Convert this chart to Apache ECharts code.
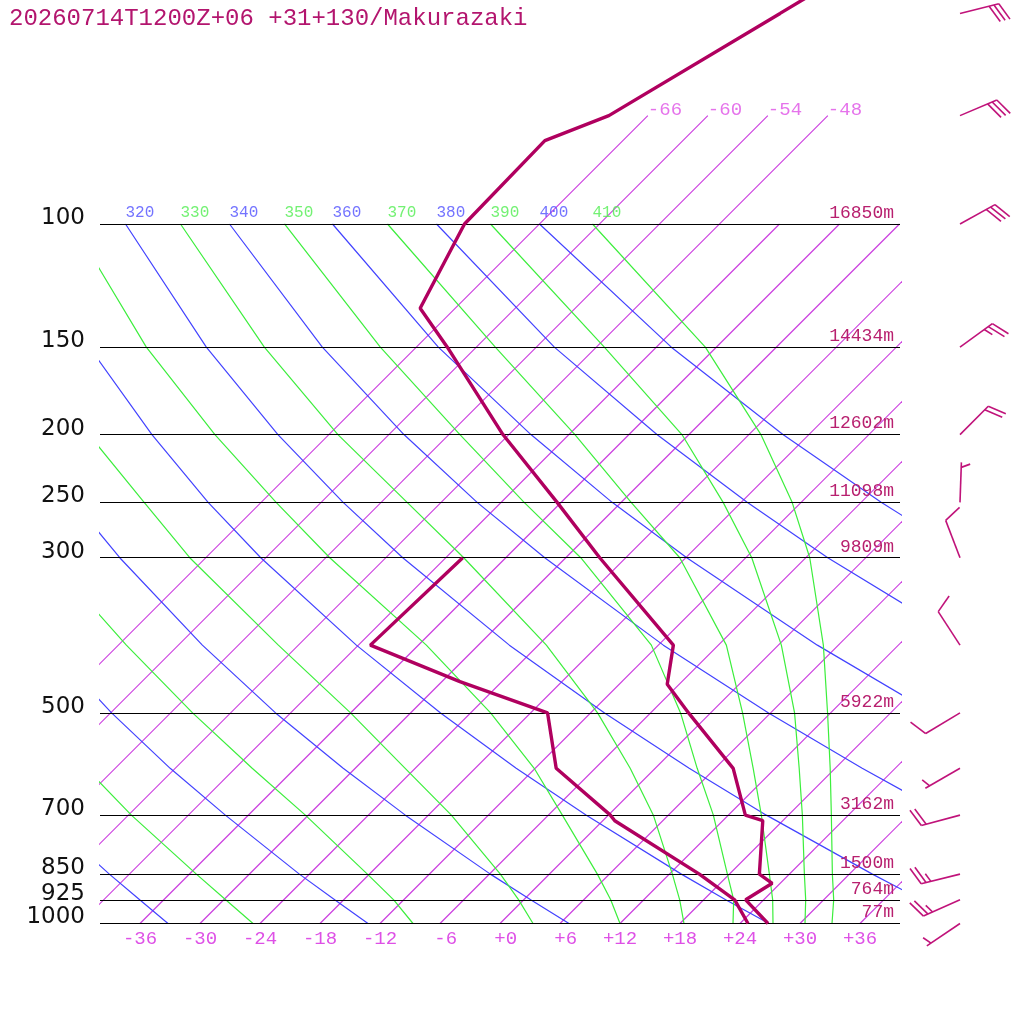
<!DOCTYPE html>
<html>
<head>
<meta charset="utf-8">
<title>Makurazaki sounding</title>
<script src="https://cdn.jsdelivr.net/npm/echarts@6/dist/echarts.min.js"></script>
<style>
html, body { margin: 0; padding: 0; background: #ffffff; }
#myEchart { width: 1024px; height: 1024px; }
</style>
</head>
<body>
<div id="myEchart"></div>
<script>
var title = '20260714T1200Z+06 +31+130/Makurazaki';

// isobars and their heights
var isobarP = [1000, 925, 850, 700, 500, 300, 250, 200, 150, 100];
var isobarH = [77, 764, 1500, 3162, 5922, 9809, 11098, 12602, 14434, 16850];

// bottom temperature ticks
var tempTicks = [-36, -30, -24, -18, -12, -6, 0, 6, 12, 18, 24, 30, 36];

// sounding: temperature
var tempP = [1000, 925, 876, 850, 713, 700, 600, 500, 455, 400, 300, 250, 200, 150, 132, 100, 76, 70, 50, 40];
var tempT = [26.8, 22.2, 23.2, 21.0, 16.0, 13.7, 7.8, -2.2, -7.2, -10.5, -26.6, -36.4, -48.6, -62.9, -69.5, -73.5, -73.8, -69.9, -63.0, -58.5];
// sounding: dew point
var dewP = [1000, 925, 850, 713, 700, 600, 500, 451, 400, 300];
var dewT = [24.8, 21.1, 15.0, 1.2, 0.2, -9.9, -16.3, -28.2, -40.8, -40.3];

// wind barbs (direction in degrees, speed in barb units)
var windP = [50, 70, 100, 150, 200, 250, 300, 400, 500, 600, 700, 850, 925, 1000];
var windDir = [76, 67, 61, 54, 45, 2, 339, 327, 239, 240, 255, 256, 246, 236];
var windSpd = [30, 30, 30, 25, 20, 5, 10, 10, 10, 5, 20, 25, 25, 5];

// isotherms and the pressure where each one stops
var isoT = [-66, -60, -54, -48, -42, -36, -30, -24, -18, -12, -6, 0, 6, 12, 18, 24, 30, 36];
var isoTop = [70, 70, 70, 70, 100, 100, 100, 100, 100, 100, 100, 100, 100, 100, 100, 100, 100, 100];

// levels used by the adiabats
var adiabatP = [1000, 925, 850, 700, 600, 500, 400, 300, 250, 200, 150, 100];

// dry adiabats (blue), temperature at adiabatP
var dryTheta = [240, 260, 280, 300, 320, 340, 360, 380, 400];
var dryT = [
    [-33.2, -38.4, -44.0, -56.4, null, null, null, null, null, null, null, null],
    [-13.2, -18.9, -25.0, -38.3, -48.5, -59.9, -73.0, null, null, null, null, null],
    [6.9, 0.7, -5.9, -20.3, -31.2, -43.5, -57.6, -74.6, -84.7, null, null, null],
    [26.9, 20.2, 13.2, -2.2, -13.9, -27.0, -42.2, -60.5, -71.3, -83.7, -98.7, null],
    [46.9, 39.8, 32.3, 15.8, 3.4, -10.6, -26.9, -46.3, -57.8, -71.1, -87.0, -107.4],
    [null, null, null, 33.9, 20.7, 5.8, -11.5, -32.1, -44.4, -58.5, -75.4, -97.0],
    [null, null, null, null, null, 22.2, 3.9, -17.9, -30.9, -45.8, -63.8, -86.7],
    [null, null, null, null, null, null, 19.3, -3.8, -17.4, -33.2, -52.2, -76.3],
    [null, null, null, null, null, null, null, 10.4, -4.0, -20.6, -40.5, -66.0]
];

// moist adiabats (green), temperature at adiabatP
var moistTheta = [250, 270, 290, 310, 330, 350, 370, 390, 410];
var moistT = [
    [-24.7, -29.8, -35.3, -47.7, -56.9, null, null, null, null, null, null, null],
    [-8.7, -13.0, -18.2, -30.3, -40.3, -51.8, -65.2, -81.7, null, null, null, null],
    [3.3, -0.5, -4.9, -15.7, -25.0, -36.0, -50.0, -67.6, -77.7, -90.0, null, null],
    [12.0, 8.7, 4.8, -4.6, -12.1, -22.0, -35.2, -53.6, -64.5, -77.4, -93.0, -112.7],
    [18.4, 15.6, 12.3, 4.5, -2.5, -11.3, -23.2, -40.2, -51.4, -65.1, -81.2, -101.9],
    [23.3, 21.0, 17.8, 10.5, 4.2, -3.0, -12.7, -28.5, -39.7, -52.9, -69.6, -91.5],
    [27.3, 24.9, 22.0, 15.3, 9.8, 3.2, -5.2, -18.6, -29.0, -41.4, -58.1, -81.2],
    [30.5, 28.2, 25.5, 19.4, 14.4, 8.4, 0.3, -11.4, -19.8, -30.7, -47.2, -70.9],
    [33.2, 31.0, 28.3, 22.3, 17.5, 11.7, 4.5, -5.6, -12.9, -22.8, -37.1, -60.7]
];

var SKEW = 69.95;   // x shift (deg) per decade of pressure
var BARB_X = 46;    // station column of the wind barbs, in x axis units
var MONO = 'Liberation Mono';

var blue = '#4242ff';
var green = '#3cee3c';
var isoColor = '#cc40e0';
var sndColor = '#b0005f';

function skewX(t, p) {
    return t + SKEW * Math.log10(1000 / p);
}

function curve(ps, ts, color, width, z) {
    var data = [];
    for (var i = 0; i < ps.length; i++) {
        if (ts[i] != null) data.push([skewX(ts[i], ps[i]), ps[i]]);
    }
    return {
        type: 'line',
        data: data,
        symbol: 'none',
        silent: true,
        clip: true,
        animation: false,
        z: z,
        lineStyle: { color: color, width: width }
    };
}

function topLabels(rows, thetas, color) {
    var data = [];
    var last = adiabatP.length - 1;
    for (var i = 0; i < rows.length; i++) {
        var t = rows[i][last];
        if (t == null) continue;
        var x = skewX(t, 100);
        if (x < -40) continue;
        data.push({ value: [x, 100], name: String(thetas[i]) });
    }
    return {
        type: 'scatter',
        data: data,
        symbolSize: 0,
        silent: true,
        animation: false,
        z: 5,
        label: {
            show: true,
            position: 'top',
            align: 'left',
            distance: 3,
            formatter: function(p) { return p.name; },
            color: color,
            fontFamily: MONO,
            fontSize: 16
        }
    };
}

function renderBarb(params, api) {
    var p = api.value(0);
    var dir = api.value(1) * Math.PI / 180;
    var spd = api.value(2);
    var base = api.coord([BARB_X, p]);
    var ux = Math.sin(dir), uy = -Math.cos(dir);
    var L = 40, step = 5, full = 19, half = 9.5;
    var tip = [base[0] + ux * L, base[1] + uy * L];
    var rot = 68 * Math.PI / 180;
    var bx = ux * Math.cos(rot) - uy * Math.sin(rot);
    var by = ux * Math.sin(rot) + uy * Math.cos(rot);
    var style = { stroke: '#c0137a', lineWidth: 1.6 };
    var kids = [{
        type: 'line',
        shape: { x1: base[0], y1: base[1], x2: tip[0], y2: tip[1] },
        style: style
    }];
    var nFull = Math.floor(spd / 10);
    var nHalf = (spd % 10) >= 5 ? 1 : 0;
    var pos = nFull === 0 ? 1 : 0;
    for (var i = 0; i < nFull + nHalf; i++) {
        var len = i < nFull ? full : half;
        var sx = tip[0] - ux * step * pos, sy = tip[1] - uy * step * pos;
        kids.push({
            type: 'line',
            shape: { x1: sx, y1: sy, x2: sx + bx * len, y2: sy + by * len },
            style: style
        });
        pos++;
    }
    return { type: 'group', children: kids };
}

var series = [];

// isotherms
for (var i = 0; i < isoT.length; i++) {
    series.push(curve([1000, isoTop[i]], [isoT[i], isoT[i]], isoColor, 1.2, 2));
}
// dry and moist adiabats
for (var i = 0; i < dryT.length; i++) series.push(curve(adiabatP, dryT[i], blue, 1.2, 2));
for (var i = 0; i < moistT.length; i++) series.push(curve(adiabatP, moistT[i], green, 1.2, 2));

// isobars with heights
series.push({
    type: 'line',
    data: [],
    silent: true,
    animation: false,
    z: 3,
    markLine: {
        silent: true,
        animation: false,
        symbol: ['none', 'none'],
        lineStyle: { color: '#000', width: 1.2, type: 'solid' },
        label: {
            position: 'insideEndTop',
            distance: [6, 2],
            color: '#b8206f',
            fontFamily: MONO,
            fontSize: 18
        },
        data: isobarP.map(function(p, i) {
            return { yAxis: p, label: { formatter: isobarH[i] + 'm' } };
        })
    }
});

// isotherm labels at the top
var isoLab = [];
for (var i = 0; i < isoT.length; i++) {
    if (isoTop[i] === 70) isoLab.push({ value: [skewX(isoT[i], 70), 70], name: String(isoT[i]) });
}
series.push({
    type: 'scatter',
    data: isoLab,
    symbolSize: 0,
    silent: true,
    animation: false,
    z: 5,
    label: {
        show: true,
        position: 'top',
        align: 'left',
        distance: -4,
        formatter: function(p) { return p.name; },
        color: '#de50e6',
        fontFamily: MONO,
        fontSize: 19
    }
});

series.push(topLabels(dryT, dryTheta, '#5050ff'));
series.push(topLabels(moistT, moistTheta, '#50ee50'));

// sounding
series.push(curve(tempP, tempT, sndColor, 3.4, 10));
series.push(curve(dewP, dewT, sndColor, 3.4, 10));

// wind barbs
series.push({
    type: 'custom',
    coordinateSystem: 'cartesian2d',
    clip: false,
    silent: true,
    animation: false,
    z: 10,
    renderItem: renderBarb,
    encode: { y: 0 },
    data: windP.map(function(p, i) { return [p, windDir[i], windSpd[i]]; })
});

var myChart = echarts.init(document.getElementById('myEchart'));
myChart.setOption({
    animation: false,
    backgroundColor: '#ffffff',
    title: {
        text: title,
        left: 4,
        top: 2,
        textStyle: { fontFamily: MONO, fontSize: 24, fontWeight: 'normal', color: '#b3156e' }
    },
    grid: {
        left: 100,
        right: 124,
        top: 0,
        bottom: 100.5,
        outerBoundsMode: 'none'
    },
    xAxis: {
        type: 'value',
        min: -40,
        max: 40,
        axisLine: { show: false },
        axisTick: { show: false },
        splitLine: { show: false },
        axisLabel: {
            customValues: tempTicks,
            margin: 6,
            color: '#de50e6',
            fontFamily: MONO,
            fontSize: 19,
            formatter: function(v) {
                var s = (v < 0 ? '-' : '+') + Math.abs(v);
                return ('   ' + s).slice(-3);
            }
        }
    },
    yAxis: {
        type: 'log',
        logBase: 10,
        min: 47.84,
        max: 1000,
        inverse: true,
        axisLine: { show: false },
        axisTick: { show: false },
        splitLine: { show: false },
        axisLabel: {
            customValues: isobarP,
            margin: 15,
            verticalAlign: 'bottom',
            lineHeight: 12,
            hideOverlap: false,
            color: '#111',
            fontFamily: 'DejaVu Sans',
            fontSize: 23,
            formatter: function(v) { return String(v); }
        }
    },
    series: series
});
</script>
</body>
</html>
